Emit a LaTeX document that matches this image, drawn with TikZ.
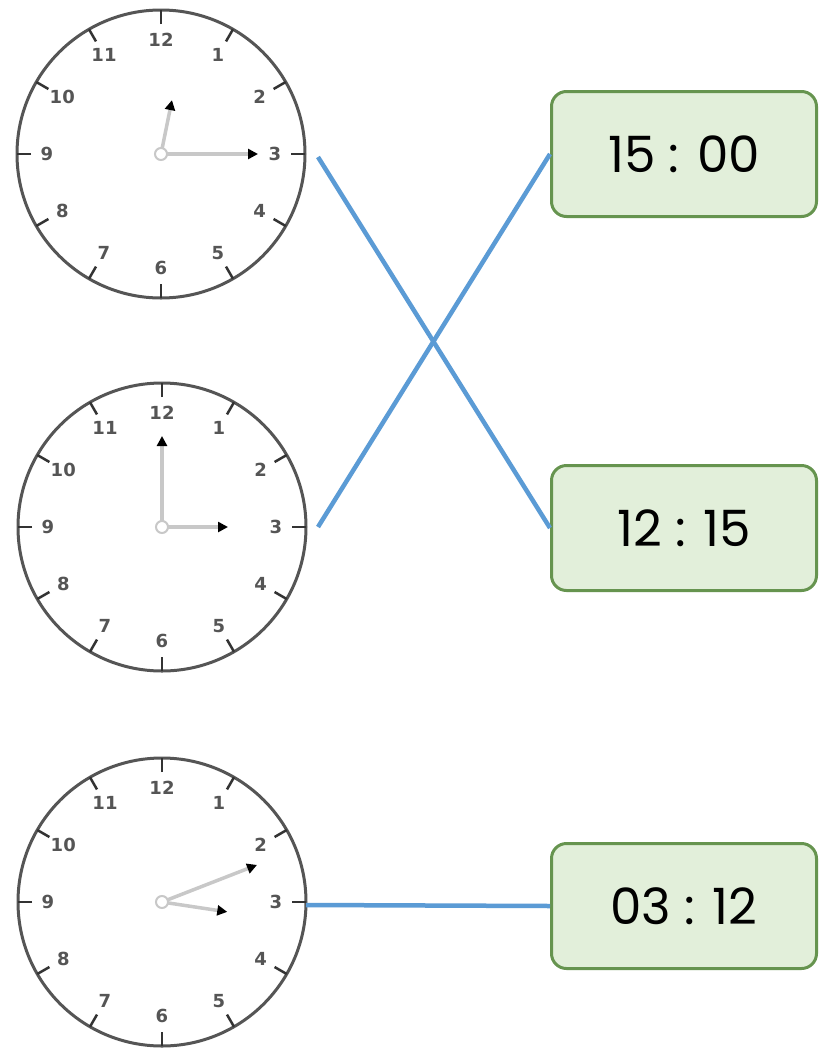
\documentclass[tikz,border=0pt]{standalone}
\usepackage{fontspec}
\setmainfont{Poppins}
\newfontfamily\clockfont{DejaVu Sans}
\usetikzlibrary{arrows.meta}
\definecolor{rimc}{HTML}{555555}
\definecolor{handc}{HTML}{C8C8C8}
\definecolor{linkc}{HTML}{5B9BD5}
\definecolor{boxfill}{HTML}{E2EFDA}
\definecolor{boxdraw}{HTML}{66944F}
\tikzset{
  rim/.style={draw=rimc, line width=3},
  tickmark/.style={draw=black!80, line width=2.5},
  num/.style={font=\clockfont\bfseries\fontsize{18}{21}\selectfont, text=rimc, inner sep=0},
  hand/.style={draw=handc, line width=3.5, -{Triangle[black,length=10,width=10]}},
  hub/.style={draw=handc, line width=2},
  link/.style={draw=linkc, line width=4.5},
  timebox/.style={draw=boxdraw, fill=boxfill, line width=3, rounded corners=15,
    minimum width=265, minimum height=125, inner sep=0,
    font=\fontsize{50}{58}\selectfont}
}
\begin{document}
\begin{tikzpicture}[x=1pt,y=-1pt]
\useasboundingbox (0,0) rectangle (819,1053);
\fill[white] (0,0) rectangle (819,1053);
\foreach \cx/\cy/\ha/\hl/\ma/\ml/\k in {161/154/11.5/55/90/97/1, 162/527/90/66/0/91/2, 162/902/98.6/66/68.7/102/3} {
  \begin{scope}[shift={(\cx,\cy)}]
    \draw[rim] (0,0) circle (144);
    \foreach \h in {1,...,12} {
      \draw[tickmark] ({130*sin(30*\h)},{-130*cos(30*\h)}) -- ({144*sin(30*\h)},{-144*cos(30*\h)});
      \node[num] (n\k-\h) at ({114*sin(30*\h)},{-114*cos(30*\h)}) {\h};
    }
    \draw[hand] (0,0) -- ({\hl*sin(\ha)},{-\hl*cos(\ha)});
    \draw[hand] (0,0) -- ({\ml*sin(\ma)},{-\ml*cos(\ma)});
    \draw[hub, fill=white] (0,0) circle (6);
  \end{scope}
}
\node[timebox] (b1) at (684,154) {15 : 00};
\node[timebox] (b2) at (684,528) {12 : 15};
\node[timebox] (b3) at (684,906) {03 : 12};
\coordinate (k1) at (318,157);
\coordinate (k2) at (318,527);
\coordinate (k3) at (306,905);
\draw[link] (k1) -- (b2.west);
\draw[link] (k2) -- (b1.west);
\draw[link] (k3) -- (b3.west);
\end{tikzpicture}
\end{document}
